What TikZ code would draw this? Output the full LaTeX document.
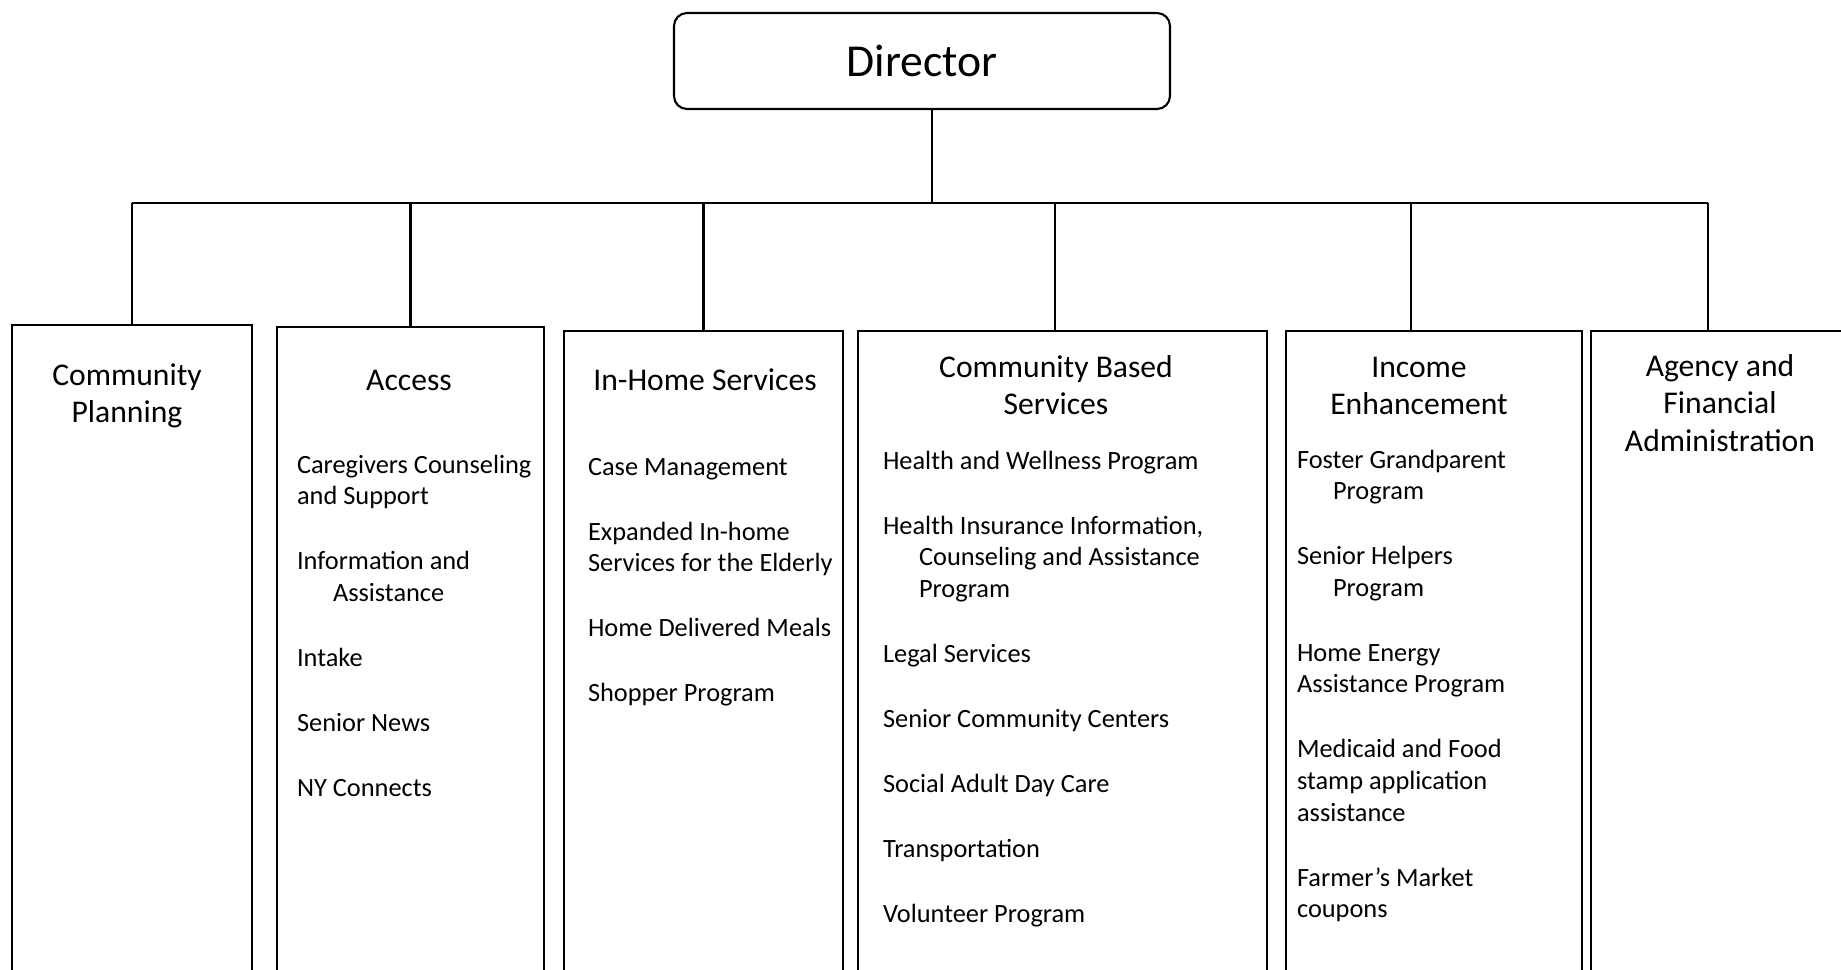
\documentclass[tikz,border=0pt]{standalone}
\usepackage{fontspec}
\setmainfont{Carlito}
\usetikzlibrary{positioning}
\def\hd{\fontsize{9}{10.7}\selectfont}
\def\bd{\fontsize{7.5}{9.0}\selectfont}
\def\ind{\hspace*{0.36cm}}
\def\gap{\\[9.5pt]}
\newcommand{\headtxt}[1]{\parbox[t]{3cm}{\centering\hd #1}}
\newcommand{\listtxt}[1]{\parbox[t]{4cm}{\raggedright\bd #1}}

\begin{document}
\begin{tikzpicture}[line width=0.6pt]
\tikzset{
  unit/.style={draw, anchor=north, minimum height=7cm, inner sep=0pt},
  head/.style={anchor=base, inner sep=0pt},
  list/.style={anchor=base west, inner sep=0pt}
}
\useasboundingbox (0,0) rectangle (18.41,9.69);
\clip (0,0) rectangle (18.41,9.69);

% top box
\node[draw, rounded corners=1.3mm, minimum width=4.96cm, minimum height=0.96cm,
  font=\fontsize{13}{15}\selectfont] (dir) at (9.22, 9.08) {Director};

% the six units
\node[unit, minimum width=2.40cm] (plan) at (1.32, 6.45) {};
\node[unit, minimum width=2.67cm] (acc)  at (4.105, 6.43) {};
\node[unit, minimum width=2.79cm] (home) at (7.035, 6.39) {};
\node[unit, minimum width=4.09cm] (cbs)  at (10.625, 6.39) {};
\node[unit, minimum width=2.96cm] (inc)  at (14.34, 6.39) {};
\node[unit, minimum width=2.80cm] (fin)  at (17.31, 6.39) {};

% connectors
\coordinate (bus) at (0, 7.66);
\draw (plan.north |- bus) -- ([xshift=-2.3mm]fin.north |- bus);
\draw ([xshift=1mm]dir.south) -- ([xshift=1mm]dir.south |- bus);
\draw (plan.north) -- (plan.north |- bus);
\draw (acc.north) -- (acc.north |- bus);
\draw (home.north) -- (home.north |- bus);
\draw ([xshift=-0.75mm]cbs.north) -- ([xshift=-0.75mm]cbs.north |- bus);
\draw ([xshift=-2.3mm]inc.north) -- ([xshift=-2.3mm]inc.north |- bus);
\draw ([xshift=-2.3mm]fin.north) -- ([xshift=-2.3mm]fin.north |- bus);

% headings
\node[head] (planhd) at (1.27, 5.84)  {\headtxt{Community\\Planning}};
\node[head] (acchd)  at (4.09, 5.79)  {\headtxt{Access}};
\node[head] (homehd) at (7.05, 5.79)  {\headtxt{In-Home Services}};
\node[head] (cbshd)  at (10.56, 5.92) {\headtxt{Community Based\\Services}};
\node[head] (inchd)  at (14.19, 5.92) {\headtxt{Income\\Enhancement}};
\node[head] (finhd)  at (17.20, 5.93) {\headtxt{Agency and\\Financial\\Administration}};

% programs
\node[list] (acclst) at (2.96, 4.96) {\listtxt{Caregivers Counseling\\and Support\gap
  Information and\\\ind Assistance\gap Intake\gap Senior News\gap NY Connects}};
\node[list] (homelst) at (5.87, 4.94) {\listtxt{Case Management\gap
  Expanded In-home\\Services for the Elderly\gap Home Delivered Meals\gap Shopper Program}};
\node[list] (cbslst) at (8.82, 5.00) {\listtxt{Health and Wellness Program\gap
  Health Insurance Information,\\\ind Counseling and Assistance\\\ind Program\gap
  Legal Services\gap Senior Community Centers\gap Social Adult Day Care\gap
  Transportation\gap Volunteer Program}};
\node[list] (inclst) at (12.96, 5.01) {\listtxt{Foster Grandparent\\\ind Program\gap
  Senior Helpers\\\ind Program\gap Home Energy\\Assistance Program\gap
  Medicaid and Food\\stamp application\\assistance\gap Farmer’s Market\\coupons}};
\end{tikzpicture}
\end{document}
